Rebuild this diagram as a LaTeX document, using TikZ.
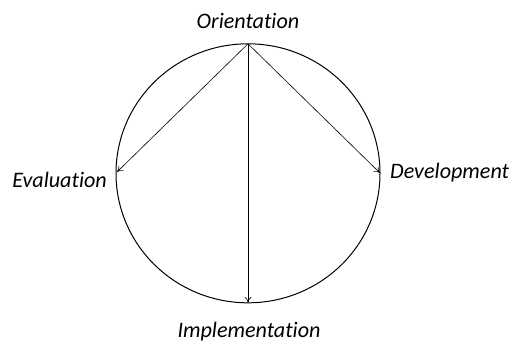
\documentclass[tikz,border=0pt]{standalone}
\usepackage{fontspec}
\setmainfont{Carlito}[RawFeature={-liga}]
\usetikzlibrary{arrows.meta}
\begin{document}
\begin{tikzpicture}[x=1bp,y=-1bp,
  lbl/.style={font=\fontsize{22.2}{25}\selectfont\itshape, inner sep=0pt},
  arr/.style={-{To[length=6bp,width=7bp]}, line width=0.6bp}]
\useasboundingbox (0,0) rectangle (514,341);
\draw[line width=1bp] (248,173.3) ellipse [x radius=132, y radius=129.5];
\coordinate (top) at (248,43.8);
\coordinate (left) at (117,172);
\coordinate (right) at (380,173);
\coordinate (bottom) at (248,302.8);
\draw[arr] (top) -- (left);
\draw[arr] (top) -- (right);
\draw[arr] (top) -- (bottom);
\node[lbl, anchor=base] (o) at (248,28) {Orientation};
\node[lbl, anchor=base east] (e) at (107,187) {Evaluation};
\node[lbl, anchor=base west] (d) at (390,178) {Development};
\node[lbl, anchor=base] (i) at (249,337) {Implementation};
\end{tikzpicture}
\end{document}
